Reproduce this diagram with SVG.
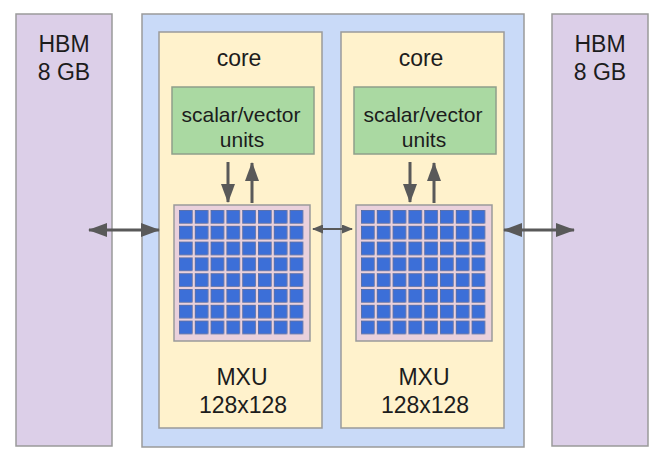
<svg xmlns="http://www.w3.org/2000/svg" width="654" height="458" viewBox="0 0 654 458">
<defs>
<style>
text{font-family:"Liberation Sans",Arial,sans-serif;fill:#1c1c1c;text-anchor:middle}
.t{font-size:23px}
.s{font-size:21px}
.hbm{fill:#dccfe8;stroke:#9a9a9a;stroke-width:1.5}
.chip{fill:#c9daf8;stroke:#9a9a9a;stroke-width:1.5}
.core{fill:#fff2cc;stroke:#9a9a9a;stroke-width:1.5}
.vu{fill:#aad9a2;stroke:#8f9f8a;stroke-width:1.5}
.mxu{fill:#ead1dc;stroke:#9a9a9a;stroke-width:1.5}
.cell{fill:#3c6fd8;stroke:#4a5f8f;stroke-width:0.6}
.ar{stroke:#595959;stroke-width:3;fill:none}
.ars{stroke:#595959;stroke-width:2;fill:none}
</style>
<marker id="ah" markerUnits="userSpaceOnUse" markerWidth="19" markerHeight="14" refX="18" refY="7" orient="auto-start-reverse" viewBox="0 0 19 14">
<path d="M0,0 L19,7 L0,14 z" fill="#595959"/>
</marker>
<marker id="ahs" markerUnits="userSpaceOnUse" markerWidth="11" markerHeight="9" refX="10" refY="4.5" orient="auto-start-reverse" viewBox="0 0 11 9">
<path d="M0,0 L11,4.5 L0,9 z" fill="#595959"/>
</marker>
<pattern id="grid" patternUnits="userSpaceOnUse" x="179" y="210" width="15.8" height="15.8">
<rect x="0.3" y="0.3" width="12.9" height="12.9" class="cell"/>
</pattern>
<pattern id="grid2" patternUnits="userSpaceOnUse" x="361" y="210" width="15.8" height="15.8">
<rect x="0.3" y="0.3" width="12.9" height="12.9" class="cell"/>
</pattern>
</defs>

<g id="hbm-left">
<rect class="hbm" x="16" y="14" width="96" height="432"/>
<text class="t" x="64" y="52">HBM</text>
<text class="t" x="64" y="80">8 GB</text>
</g>

<g id="hbm-right">
<rect class="hbm" x="552" y="14" width="96" height="432"/>
<text class="t" x="600" y="52">HBM</text>
<text class="t" x="600" y="80">8 GB</text>
</g>

<g id="chip">
<rect class="chip" x="142" y="14" width="382" height="433"/>
</g>

<g id="core1">
<rect class="core" x="159" y="32" width="163" height="396"/>
<text class="t" x="239" y="66">core</text>
<text class="t" x="242" y="385">MXU</text>
<text class="t" x="243" y="413">128x128</text>
</g>

<g id="core2">
<rect class="core" x="341" y="32" width="163" height="396"/>
<text class="t" x="421" y="66">core</text>
<text class="t" x="424" y="385">MXU</text>
<text class="t" x="425" y="413">128x128</text>
</g>

<g id="vu1">
<rect class="vu" x="172" y="87" width="142" height="67"/>
<text class="s" x="241" y="122">scalar/vector</text>
<text class="s" x="242" y="147">units</text>
</g>

<g id="vu2">
<rect class="vu" x="354" y="87" width="142" height="67"/>
<text class="s" x="423" y="122">scalar/vector</text>
<text class="s" x="424" y="147">units</text>
</g>

<g id="mxu1">
<rect class="mxu" x="174" y="205" width="136" height="136"/>
<rect x="179" y="210" width="126" height="126" fill="url(#grid)"/>
</g>

<g id="mxu2">
<rect class="mxu" x="356" y="205" width="136" height="136"/>
<rect x="361" y="210" width="126" height="126" fill="url(#grid2)"/>
</g>

<g id="connectors">
<line class="ar" x1="228" y1="162" x2="228" y2="202" marker-end="url(#ah)"/>
<line class="ar" x1="252" y1="203" x2="252" y2="163" marker-end="url(#ah)"/>
<line class="ar" x1="410" y1="162" x2="410" y2="202" marker-end="url(#ah)"/>
<line class="ar" x1="434" y1="203" x2="434" y2="163" marker-end="url(#ah)"/>
<line class="ar" x1="89" y1="230" x2="159" y2="230" marker-start="url(#ah)" marker-end="url(#ah)"/>
<line class="ar" x1="504" y1="230" x2="574" y2="230" marker-start="url(#ah)" marker-end="url(#ah)"/>
<line class="ars" x1="313" y1="229" x2="352" y2="229" marker-start="url(#ahs)" marker-end="url(#ahs)"/>
</g>
</svg>
